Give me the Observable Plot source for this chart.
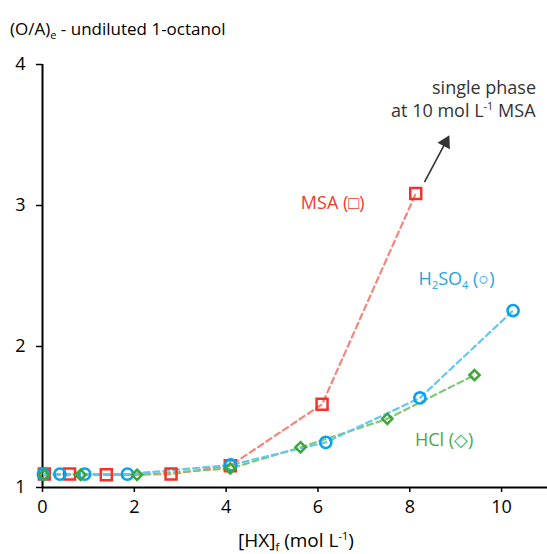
<!DOCTYPE html>
<html><head><meta charset="utf-8">
<script src="https://cdn.jsdelivr.net/npm/d3@7"></script>
<script src="https://cdn.jsdelivr.net/npm/@observablehq/plot@0.6"></script>
<style>body{margin:0;background:#fff} svg{display:block}</style>
</head><body><div id="chart"></div>
<script>
// Series data: [HX]f (mol L-1) vs (O/A)e
const msaX   = [0.04, 0.59, 1.39, 2.80, 4.09, 6.09, 8.13];
const msaY   = [1.095, 1.095, 1.09, 1.095, 1.155, 1.59, 3.085];
const h2so4X = [0.02, 0.38, 0.92, 1.85, 4.10, 6.17, 8.22, 10.25];
const h2so4Y = [1.095, 1.095, 1.095, 1.095, 1.16, 1.32, 1.635, 2.255];
const hclX   = [0.03, 0.83, 2.06, 4.09, 5.62, 7.51, 9.41];
const hclY   = [1.09, 1.09, 1.09, 1.135, 1.285, 1.487, 1.797];
const xTicks = [0, 2, 4, 6, 8, 10];
const yTicks = [1, 2, 3, 4];
// annotation anchors (data coordinates)
const arrowFrom = [8.32, 3.165];
const arrowTo   = [8.78, 3.447];
const msaLabel   = [6.32, 3.014];
const h2so4Label = [9.03, 2.48];
const hclLabel   = [8.75, 1.333];
const notePos1   = [10.75, 3.83];
const notePos2   = [10.75, 3.667];

const toRows = (xs, ys) => xs.map((x, i) => ({x, y: ys[i]}));
const msa = toRows(msaX, msaY), h2so4 = toRows(h2so4X, h2so4Y), hcl = toRows(hclX, hclY);

const FONT = "'Open Sans', sans-serif";
const dash = "6,4";

const chart = Plot.plot({
  width: 547, height: 554,
  marginLeft: 42, marginRight: 0, marginTop: 64, marginBottom: 67,
  style: {fontFamily: FONT, fontSize: "18px", color: "#000", background: "#fff"},
  x: {domain: [0, 11]},
  y: {domain: [1, 4]},
  marks: [
    Plot.axisX(xTicks, {tickSize: 5, tickPadding: 8, strokeWidth: 1.5, fontSize: 18, label: null, tickFormat: d => String(d)}),
    Plot.axisY(yTicks, {tickSize: 6, tickPadding: 11, strokeWidth: 1.5, fontSize: 18, label: null, tickFormat: d => String(d)}),
    Plot.ruleY([1], {stroke: "#000", strokeWidth: 2}),
    Plot.ruleX([0], {stroke: "#000", strokeWidth: 2}),
    Plot.line(msa, {x: "x", y: "y", stroke: "#f4857c", strokeWidth: 2.2, strokeDasharray: dash}),
    Plot.line(hcl, {x: "x", y: "y", stroke: "#80c878", strokeWidth: 2.2, strokeDasharray: dash}),
    Plot.line(h2so4, {x: "x", y: "y", stroke: "#62c8f0", strokeWidth: 2.2, strokeDasharray: dash}),
    Plot.dot(msa, {x: "x", y: "y", symbol: "square", r: 6.2, stroke: "#f2332a", strokeWidth: 2.5, fill: "none"}),
    Plot.dot(h2so4, {x: "x", y: "y", symbol: "circle", r: 5.6, stroke: "#0aa2e8", strokeWidth: 2.6, fill: "none"}),
    Plot.dot(hcl, {x: "x", y: "y", symbol: "diamond2", r: 4.6, stroke: "#3ea638", strokeWidth: 2.5, fill: "none"}),
    Plot.link([0], {x1: () => arrowFrom[0], y1: () => arrowFrom[1], x2: () => arrowTo[0], y2: () => arrowTo[1], stroke: "#333", strokeWidth: 1.6}),
    Plot.dot([0], {x: () => arrowTo[0], y: () => arrowTo[1], symbol: "triangle", r: 5.2, fill: "#333", stroke: "none", rotate: 28}),
    Plot.text([0], {x: () => msaLabel[0], y: () => msaLabel[1], text: () => "MSA (\u25A1)", fill: "#f03c2e", fontSize: 18}),
    Plot.text([0], {x: () => hclLabel[0], y: () => hclLabel[1], text: () => "HCl (\u25C7)", fill: "#45ab40", fontSize: 18}),
    Plot.text([0], {x: () => notePos1[0], y: () => notePos1[1], text: () => "single phase", fill: "#333", textAnchor: "end", fontSize: 18})
  ]
});
document.getElementById("chart").appendChild(chart);

const sx = chart.scale("x"), sy = chart.scale("y");
const svg = d3.select(chart);
const g = svg.append("g").attr("font-family", FONT).attr("font-size", 18).attr("text-anchor", "start");

// title
const t = g.append("text").attr("x", 10).attr("y", 35).attr("font-size", 17).attr("fill", "#000").attr("text-anchor", "start");
t.append("tspan").text("(O/A)");
t.append("tspan").attr("font-size", 11).attr("dy", 4).text("e");
t.append("tspan").attr("dy", -4).text(" - undiluted 1-octanol");

// x axis label
const xl = g.append("text").attr("x", 296).attr("y", 547).attr("text-anchor", "middle").attr("fill", "#000").attr("font-size", 19);
xl.append("tspan").text("[HX]");
xl.append("tspan").attr("font-size", 11).attr("dy", 4).text("f");
xl.append("tspan").attr("dy", -4).text(" (mol L");
xl.append("tspan").attr("font-size", 11).attr("dy", -7).text("-1");
xl.append("tspan").attr("dy", 7).text(")");

// H2SO4 label
const hl = g.append("text").attr("x", sx.apply(h2so4Label[0])).attr("y", sy.apply(h2so4Label[1])).attr("dy", "0.35em")
  .attr("text-anchor", "middle").attr("fill", "#1aa6e8");
hl.append("tspan").text("H");
hl.append("tspan").attr("font-size", 11).attr("dy", 4).text("2");
hl.append("tspan").attr("dy", -4).text("SO");
hl.append("tspan").attr("font-size", 11).attr("dy", 4).text("4");
hl.append("tspan").attr("dy", -4).text(" (\u25CB)");

// note second line
const nl = g.append("text").attr("x", sx.apply(notePos2[0])).attr("y", sy.apply(notePos2[1])).attr("dy", "0.35em")
  .attr("text-anchor", "end").attr("fill", "#333");
nl.append("tspan").text("at 10 mol L");
nl.append("tspan").attr("font-size", 11).attr("dy", -7).text("-1");
nl.append("tspan").attr("dy", 7).text(" MSA");
</script>
</body></html>
